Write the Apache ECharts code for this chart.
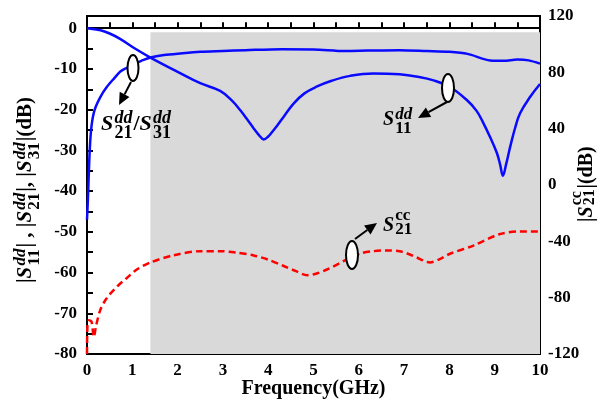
<!DOCTYPE html>
<html>
<head>
<meta charset="utf-8">
<script src="https://cdn.jsdelivr.net/npm/echarts@6/dist/echarts.min.js"></script>
<style>
html, body { margin: 0; padding: 0; background: #fff; }
#chart { width: 603px; height: 400px; }
</style>
</head>
<body>
<div id="chart"></div>
<script>
// values
var s21ddFreq = [0, 0.02, 0.06, 0.1, 0.17, 0.3, 0.44, 0.6, 0.73, 0.88, 1.03, 1.2, 1.4, 1.7, 2.06, 2.5, 3, 3.5, 4.3, 5, 5.7, 6.2, 6.9, 7.5, 8, 8.4, 8.9, 9.2, 9.5, 9.75, 10];
var s21ddVal = [-47, -42, -30, -24, -20, -16.8, -14.4, -12.3, -10.7, -9.7, -8.8, -8.0, -7.2, -6.6, -6.2, -5.8, -5.6, -5.4, -5.15, -5.2, -5.6, -5.5, -5.4, -5.6, -5.8, -6.3, -7.9, -8.0, -7.7, -7.9, -8.7];

var s11ddFreq = [0, 0.3, 0.5, 0.73, 1.03, 1.4, 2.0, 2.5, 2.94, 3.2, 3.38, 3.55, 3.68, 3.8, 3.9, 4.0, 4.1, 4.2, 4.35, 4.56, 4.8, 5.08, 5.4, 5.81, 6.32, 6.9, 7.3, 7.65, 8.02, 8.39, 8.6, 8.75, 8.9, 9.05, 9.12, 9.18, 9.25, 9.34, 9.45, 9.56, 9.78, 10];
var s11ddVal = [0, -0.5, -1.3, -2.6, -4.8, -7.2, -10.7, -13.5, -15.4, -17.8, -20.1, -22.6, -24.6, -26.3, -27.3, -26.6, -25.3, -23.9, -21.6, -18.5, -16.0, -14.3, -12.9, -11.7, -11.1, -11.3, -11.9, -12.8, -14.5, -17.7, -20.3, -23.3, -26.8, -30.7, -33.5, -36.2, -33.5, -29.2, -24.5, -20.9, -16.9, -13.7];

var s21ccFreq = [0, 0.01, 0.04, 0.1, 0.15, 0.2, 0.29, 0.4, 0.52, 0.7, 0.88, 1.1, 1.4, 1.9, 2.5, 2.94, 3.3, 3.68, 4.0, 4.34, 4.6, 4.86, 5.05, 5.3, 5.55, 5.81, 6.05, 6.32, 6.6, 6.9, 7.1, 7.28, 7.57, 7.8, 8.0, 8.53, 9.1, 9.56, 10];
var s21ccVal = [-120, -100, -96, -97, -108, -100, -89, -82, -77, -71, -66, -60, -55, -50, -47, -47, -48, -50, -53, -57.5, -61, -64, -63, -60, -56, -51.5, -48.5, -47, -46.5, -47, -49, -51.5, -55, -52.5, -49, -43, -35, -33, -33];

var shadeX = [1.4, 10];
var shadeY = [-1, -80];

var leftLabels = [-80, -70, -60, -50, -40, -30, -20, -10, 0];
var leftTicks = [-80, -75, -70, -65, -60, -55, -50, -45, -40, -35, -30, -25, -20, -15, -10, -5, 0];

function pairs(xs, ys) {
  return xs.map(function (x, i) { return [x, ys[i]]; });
}

var FONT = '"Liberation Serif", "Times New Roman", serif';
var ctx = document.createElement('canvas').getContext('2d');
function tw(t, size, italic) {
  ctx.font = (italic ? 'italic ' : '') + 'bold ' + size + 'px ' + FONT;
  return ctx.measureText(t).width;
}
function txt(t, x, yb, size, italic) {
  return {
    type: 'text', x: x, y: yb - 0.34 * size, z: 100,
    style: {
      text: t, fill: '#000', fontSize: size, fontWeight: 'bold',
      fontStyle: italic ? 'italic' : 'normal', fontFamily: FONT,
      align: 'left', verticalAlign: 'middle'
    }
  };
}
// pieces: strings, or {sup, sub, supItalic, lift}
function build(pieces, size, ssize) {
  var out = [], x = 0;
  pieces.forEach(function (p) {
    if (typeof p === 'string') {
      out.push(txt(p, x, 0, size, false));
      x += tw(p, size, false);
    } else {
      out.push(txt('S', x, 0, size, true));
      x += tw('S', size, true) + size * 0.06;
      var supB = -p.lift * size;
      out.push(txt(p.sup, x, supB, ssize, p.supItalic));
      out.push(txt(p.sub, x, supB + 0.82 * ssize, ssize, false));
      x += Math.max(tw(p.sup, ssize, p.supItalic), tw(p.sub, ssize, false)) + size * 0.04;
    }
  });
  return { children: out, width: x };
}
function group(pieces, size, ssize, x, y, rot) {
  var b = build(pieces, size, ssize);
  return { type: 'group', x: x, y: y, rotation: rot || 0, children: b.children };
}
function arrow(x0, y0, x1, y1) {
  var dx = x1 - x0, dy = y1 - y0, L = Math.sqrt(dx * dx + dy * dy);
  var ux = dx / L, uy = dy / L, hl = 12, hw = 5.5;
  var bx = x1 - ux * hl, by = y1 - uy * hl;
  return [
    { type: 'line', z: 100, shape: { x1: x0, y1: y0, x2: bx, y2: by }, style: { stroke: '#000', lineWidth: 2 } },
    { type: 'polygon', z: 100, shape: { points: [[x1, y1], [bx - uy * hw, by + ux * hw], [bx + uy * hw, by - ux * hw]] }, style: { fill: '#000' } }
  ];
}
function ell(cx, cy, rx, ry) {
  return { type: 'ellipse', z: 100, shape: { cx: cx, cy: cy, rx: rx, ry: ry }, style: { fill: '#fff', stroke: '#000', lineWidth: 2 } };
}

var dd = function (sub) { return { sup: 'dd', sub: sub, supItalic: true, lift: 0.32 }; };
var cc = function (sub) { return { sup: 'cc', sub: sub, supItalic: false, lift: 0.6 }; };

var graphics = [];
graphics.push(group(['|', dd('11'), '| , |', dd('21'), '|, |', dd('31'), '|(dB)'], 21, 17, 33, 283, Math.PI / 2));
graphics.push(group(['|', cc('21'), '|(dB)'], 20, 16, 594, 222, Math.PI / 2));
graphics.push(group([dd('21'), '/', dd('31')], 22, 18, 101, 132));
graphics.push(group([dd('11')], 20, 17, 383, 127));
graphics.push(group([cc('21')], 20, 17, 383, 233));
graphics.push(ell(133, 68, 5.5, 13));
graphics.push(ell(448, 88, 6, 14));
graphics.push(ell(352, 255, 6, 14));
graphics = graphics.concat(arrow(131, 82, 119, 105), arrow(447, 102, 418, 118), arrow(355, 239, 377, 223));

var labelStyle = { color: '#000', fontFamily: FONT, fontWeight: 'bold', fontSize: 17 };
var lineAxis = { lineStyle: { color: '#000', width: 2 } };

var chart = echarts.init(document.getElementById('chart'));
chart.setOption({
  animation: false,
  grid: {
    left: 87, right: 63, top: 16, bottom: 46, outerBoundsMode: 'none', containLabel: false,
    show: true, borderColor: '#000', borderWidth: 2, backgroundColor: 'transparent'
  },
  xAxis: {
    type: 'value', min: 0, max: 10, interval: 1,
    axisLine: lineAxis,
    axisTick: { inside: true, length: 6, lineStyle: { color: '#000', width: 2 } },
    minorTick: { show: true, splitNumber: 2, length: 6, lineStyle: { color: '#000', width: 2 } },
    splitLine: { show: false },
    axisLabel: Object.assign({ margin: 8 }, labelStyle),
    name: 'Frequency(GHz)', nameLocation: 'middle', nameGap: 25, nameMoveOverlap: false,
    nameTextStyle: { color: '#000', fontFamily: FONT, fontWeight: 'bold', fontSize: 20 }
  },
  yAxis: [{
    type: 'value', min: -80, max: 3, position: 'left',
    axisLine: { show: true, lineStyle: { color: '#000', width: 2 } },
    axisTick: { show: true, inside: true, length: 6, customValues: leftTicks, lineStyle: { color: '#000', width: 2 } },
    splitLine: { show: false },
    axisLabel: Object.assign({ margin: 10, customValues: leftLabels }, labelStyle)
  }, {
    type: 'value', min: -120, max: 120, interval: 40, position: 'right',
    axisLine: { show: true, lineStyle: { color: '#000', width: 2 } },
    axisTick: { show: true, inside: true, length: 6, lineStyle: { color: '#000', width: 2 } },
    minorTick: { show: true, splitNumber: 2, length: 6, lineStyle: { color: '#000', width: 2 } },
    splitLine: { show: false },
    axisLabel: Object.assign({ margin: 8 }, labelStyle)
  }],
  series: [{
    type: 'line', z: 1, yAxisIndex: 0, data: [[shadeX[0], shadeY[1]]],
    showSymbol: false, lineStyle: { width: 0 }, silent: true,
    markArea: {
      silent: true, itemStyle: { color: '#d9d9d9' },
      data: [[{ coord: [shadeX[0], shadeY[0]] }, { coord: [shadeX[1], shadeY[1]] }]]
    }
  }, {
    name: 'S21cc', type: 'line', z: 3, yAxisIndex: 1, data: pairs(s21ccFreq, s21ccVal),
    showSymbol: false, smooth: 0.3,
    lineStyle: { color: '#ff0000', width: 2.5, type: [7, 4] }
  }, {
    name: 'S21dd', type: 'line', z: 4, yAxisIndex: 0, data: pairs(s21ddFreq, s21ddVal),
    showSymbol: false, smooth: 0.3,
    lineStyle: { color: '#0a0aff', width: 2.5 }
  }, {
    name: 'S11dd', type: 'line', z: 4, yAxisIndex: 0, data: pairs(s11ddFreq, s11ddVal),
    showSymbol: false, smooth: 0.4,
    lineStyle: { color: '#0a0aff', width: 2.5 }
  }],
  graphic: graphics
});
</script>
</body>
</html>
